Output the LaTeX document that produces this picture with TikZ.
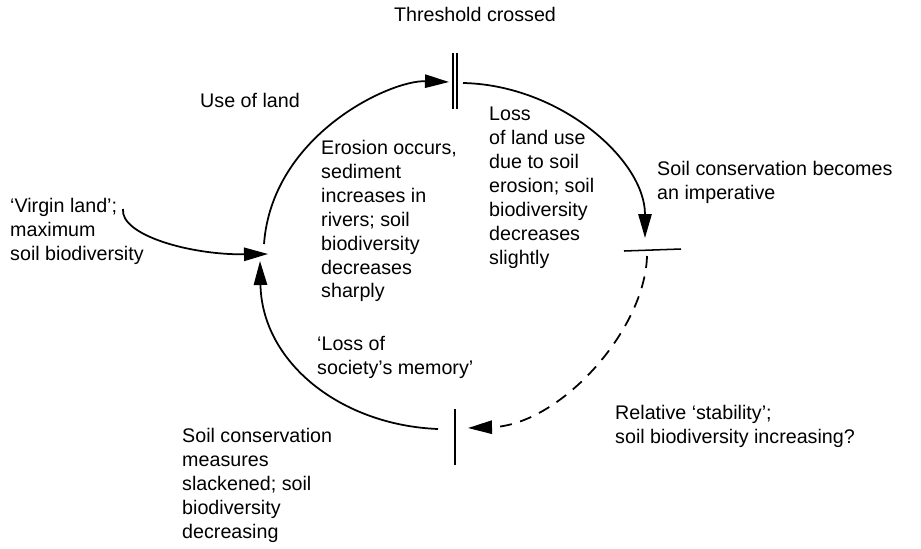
\documentclass[tikz,border=0pt]{standalone}
\usepackage{fontspec}
\setmainfont{Liberation Sans}
\usetikzlibrary{arrows.meta}

\tikzset{
  lbl/.style={font=\fontsize{16.8}{20.4}\selectfont, align=left, anchor=north west, inner sep=0pt},
  cyc/.style={line width=1.5pt, -{Triangle[length=0.72cm,width=0.4cm]}},
  bar/.style={line width=1.3pt}
}

\begin{document}
\begin{tikzpicture}[x=0.03cm,y=-0.03cm]
    \useasboundingbox (0,0) rectangle (921,548);

    \draw[bar] (453,53) -- (453,109);
    \draw[bar] (457,53) -- (457,109);
    \draw[bar] (624,251) -- (681,249);
    \draw[bar] (455,409) -- (455,465);

    \coordinate (lefttop) at (264,244);
    \coordinate (topin) at (449,82);
    \coordinate (topout) at (463,83);
    \coordinate (rightin) at (645,238);
    \coordinate (rightout) at (647,256);
    \coordinate (botin) at (468,428);
    \coordinate (botout) at (438,429);
    \coordinate (leftbot) at (260,261);
    \coordinate (virgin) at (123,209);
    \coordinate (entry) at (268,254);

    \draw[cyc] (lefttop) .. controls (272,135) and (390,80) .. (topin);
    \draw[cyc] (topout) .. controls (560,85) and (645,160) .. (rightin);
    \draw[cyc, dash pattern=on 0.36cm off 0.26cm] (rightout) .. controls (645,330) and (560,425) .. (botin);
    \draw[cyc] (botout) .. controls (340,425) and (262,362) .. (leftbot);
    \draw[cyc] (virgin) .. controls (120,235) and (190,255) .. (entry);

    \node[lbl, anchor=north] (thr) at (475,7) {Threshold crossed};
    \node[lbl] (use) at (200,93) {Use of land};
    \node[lbl] (ero) at (321,140) {Erosion occurs,\\ sediment\\ increases in\\ rivers; soil\\ biodiversity\\ decreases\\ sharply};
    \node[lbl] (loss) at (489,107) {Loss\\ of land use\\ due to soil\\ erosion; soil\\ biodiversity\\ decreases\\ slightly};
    \node[lbl] (imp) at (657,161) {Soil conservation becomes\\ an imperative};
    \node[lbl] (mem) at (317,336) {‘Loss of\\ society’s memory’};
    \node[lbl] (slk) at (182,428) {Soil conservation\\ measures\\ slackened; soil\\ biodiversity\\ decreasing};
    \node[lbl] (rel) at (615,405) {Relative ‘stability’;\\ soil biodiversity increasing?};
    \node[lbl] (vir) at (10,198) {‘Virgin land’;\\ maximum\\ soil biodiversity};

\end{tikzpicture}
\end{document}
